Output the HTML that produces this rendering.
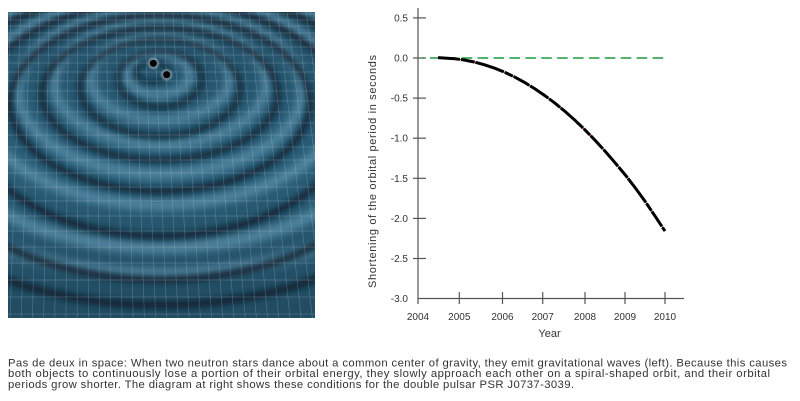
<!DOCTYPE html>
<html>
<head>
<meta charset="utf-8">
<style>
  html,body{margin:0;padding:0;background:#fff;}
  body{width:800px;height:401px;overflow:hidden;}
  svg{display:block;}
  text{font-family:"Liberation Sans",sans-serif;fill:#333;}
</style>
</head>
<body>
<svg width="800" height="401" viewBox="0 0 800 401" xmlns="http://www.w3.org/2000/svg">
  <defs>
    <clipPath id="imgclip"><rect x="8" y="12" width="307" height="306"/></clipPath>
    <linearGradient id="bg" x1="0" y1="0" x2="0" y2="1">
      <stop offset="0" stop-color="#235169"/>
      <stop offset="0.5" stop-color="#295d77"/>
      <stop offset="1" stop-color="#214b61"/>
    </linearGradient>
    <radialGradient id="glow" cx="0.5" cy="0.5" r="0.5">
      <stop offset="0" stop-color="#ffffff" stop-opacity="0.9"/>
      <stop offset="1" stop-color="#ffffff" stop-opacity="0"/>
    </radialGradient>
    <filter id="b4" x="-20%" y="-20%" width="140%" height="140%"><feGaussianBlur stdDeviation="4"/></filter>
    <filter id="b3" x="-20%" y="-20%" width="140%" height="140%"><feGaussianBlur stdDeviation="3"/></filter>
  </defs>

  <!-- Left picture: gravitational waves -->
  <g clip-path="url(#imgclip)">
    <rect x="8" y="12" width="307" height="306" fill="url(#bg)"/>
    <!-- light ridges -->
    <g fill="none" stroke="#6aa0ba" stroke-opacity="0.6" filter="url(#b4)">
      <ellipse cx="160" cy="122" rx="280" ry="152" stroke-width="12"/>
      <ellipse cx="160" cy="116" rx="232" ry="132" stroke-width="12"/>
      <ellipse cx="160" cy="100" rx="182" ry="105" stroke-width="11"/>
      <ellipse cx="160" cy="91" rx="142" ry="83" stroke-width="10"/>
      <ellipse cx="160" cy="83" rx="106" ry="62" stroke-width="9"/>
      <ellipse cx="160" cy="78" rx="70" ry="42" stroke-width="9"/>
      <ellipse cx="158" cy="74" rx="32" ry="21" stroke-width="9"/>
    </g>
    <!-- dark troughs -->
    <g fill="none" stroke="#0b2230" stroke-opacity="0.85" filter="url(#b3)">
      <ellipse cx="160" cy="140" rx="290" ry="165" stroke-width="8"/>
      <ellipse cx="160" cy="135" rx="240" ry="145" stroke-width="8"/>
      <ellipse cx="160" cy="119" rx="190" ry="117" stroke-width="7"/>
      <ellipse cx="160" cy="103" rx="150" ry="88" stroke-width="6.5"/>
      <ellipse cx="160" cy="94" rx="118" ry="66" stroke-width="6"/>
      <ellipse cx="160" cy="88" rx="80" ry="48" stroke-width="5.5"/>
      <ellipse cx="160" cy="79" rx="42" ry="28" stroke-width="5"/>
      <ellipse cx="152" cy="72" rx="16" ry="10" stroke-width="4"/>
    </g>
    <!-- grid -->
    <g stroke="#cfe0e8" stroke-opacity="0.25" stroke-width="0.7" fill="none">
      <line x1="8" y1="14" x2="315" y2="14"/><line x1="8" y1="20" x2="315" y2="20"/>
      <line x1="8" y1="26" x2="315" y2="26"/><line x1="8" y1="33" x2="315" y2="33"/>
      <line x1="8" y1="40" x2="315" y2="40"/><line x1="8" y1="47" x2="315" y2="47"/>
      <line x1="8" y1="55" x2="315" y2="55"/><line x1="8" y1="63" x2="315" y2="63"/>
      <line x1="8" y1="72" x2="315" y2="72"/><line x1="8" y1="81" x2="315" y2="81"/>
      <line x1="8" y1="91" x2="315" y2="91"/><line x1="8" y1="101" x2="315" y2="101"/>
      <line x1="8" y1="112" x2="315" y2="112"/><line x1="8" y1="123" x2="315" y2="123"/>
      <line x1="8" y1="135" x2="315" y2="135"/><line x1="8" y1="147" x2="315" y2="147"/>
      <line x1="8" y1="160" x2="315" y2="160"/><line x1="8" y1="173" x2="315" y2="173"/>
      <line x1="8" y1="187" x2="315" y2="187"/><line x1="8" y1="201" x2="315" y2="201"/>
      <line x1="8" y1="216" x2="315" y2="216"/><line x1="8" y1="231" x2="315" y2="231"/>
      <line x1="8" y1="247" x2="315" y2="247"/><line x1="8" y1="263" x2="315" y2="263"/>
      <line x1="8" y1="280" x2="315" y2="280"/><line x1="8" y1="297" x2="315" y2="297"/>
      <line x1="8" y1="314" x2="315" y2="314"/>
      <line x1="20.6" y1="12" x2="10" y2="318"/><line x1="30.1" y1="12" x2="21.2" y2="318"/>
      <line x1="39.6" y1="12" x2="32.4" y2="318"/><line x1="49.1" y1="12" x2="43.6" y2="318"/>
      <line x1="58.6" y1="12" x2="54.8" y2="318"/><line x1="68.2" y1="12" x2="66" y2="318"/>
      <line x1="77.7" y1="12" x2="77.2" y2="318"/><line x1="87.2" y1="12" x2="88.4" y2="318"/>
      <line x1="96.7" y1="12" x2="99.6" y2="318"/><line x1="106.2" y1="12" x2="110.8" y2="318"/>
      <line x1="115.8" y1="12" x2="122" y2="318"/><line x1="125.3" y1="12" x2="133.2" y2="318"/>
      <line x1="134.8" y1="12" x2="144.4" y2="318"/><line x1="144.3" y1="12" x2="155.6" y2="318"/>
      <line x1="153.8" y1="12" x2="166.8" y2="318"/><line x1="163.4" y1="12" x2="178" y2="318"/>
      <line x1="172.9" y1="12" x2="189.2" y2="318"/><line x1="182.4" y1="12" x2="200.4" y2="318"/>
      <line x1="191.9" y1="12" x2="211.6" y2="318"/><line x1="201.4" y1="12" x2="222.8" y2="318"/>
      <line x1="211" y1="12" x2="234" y2="318"/><line x1="220.5" y1="12" x2="245.2" y2="318"/>
      <line x1="230" y1="12" x2="256.4" y2="318"/><line x1="239.5" y1="12" x2="267.6" y2="318"/>
      <line x1="249" y1="12" x2="278.8" y2="318"/><line x1="258.6" y1="12" x2="290" y2="318"/>
      <line x1="268.1" y1="12" x2="301.2" y2="318"/><line x1="277.6" y1="12" x2="312.4" y2="318"/>
      <line x1="287.1" y1="12" x2="323.6" y2="318"/><line x1="296.6" y1="12" x2="334.8" y2="318"/>
      <line x1="306.2" y1="12" x2="346" y2="318"/><line x1="11" y1="12" x2="-1" y2="318"/>
    </g>
    <!-- stars -->
    <circle cx="153.3" cy="63.3" r="7" fill="url(#glow)"/>
    <circle cx="166.7" cy="74.7" r="7" fill="url(#glow)"/>
    <circle cx="153.3" cy="63.3" r="3.6" fill="#000"/>
    <circle cx="166.7" cy="74.7" r="3.6" fill="#000"/>
  </g>

  <!-- Chart -->
  <g stroke="#555" stroke-width="1.2" fill="none">
    <line x1="418" y1="8" x2="418" y2="304"/>
    <line x1="418" y1="298.5" x2="684" y2="298.5"/>
    <line x1="413" y1="17.9" x2="426" y2="17.9"/>
    <line x1="413" y1="58" x2="426" y2="58"/>
    <line x1="413" y1="98.1" x2="426" y2="98.1"/>
    <line x1="413" y1="138.2" x2="426" y2="138.2"/>
    <line x1="413" y1="178.3" x2="426" y2="178.3"/>
    <line x1="413" y1="218.4" x2="426" y2="218.4"/>
    <line x1="413" y1="258.5" x2="426" y2="258.5"/>
    <line x1="459.3" y1="292" x2="459.3" y2="304"/>
    <line x1="502.5" y1="292" x2="502.5" y2="304"/>
    <line x1="542.7" y1="292" x2="542.7" y2="304"/>
    <line x1="585" y1="292" x2="585" y2="304"/>
    <line x1="625" y1="292" x2="625" y2="304"/>
    <line x1="665" y1="292" x2="665" y2="304"/>
  </g>

  <g font-size="10" text-anchor="end">
    <text x="408" y="21.4">0.5</text>
    <text x="408" y="61.5">0.0</text>
    <text x="408" y="101.6">-0.5</text>
    <text x="408" y="141.7">-1.0</text>
    <text x="408" y="181.8">-1.5</text>
    <text x="408" y="221.9">-2.0</text>
    <text x="408" y="262">-2.5</text>
    <text x="408" y="302">-3.0</text>
  </g>
  <g font-size="10" text-anchor="middle">
    <text x="418" y="320">2004</text>
    <text x="459.3" y="320">2005</text>
    <text x="502.5" y="320">2006</text>
    <text x="542.7" y="320">2007</text>
    <text x="585" y="320">2008</text>
    <text x="625" y="320">2009</text>
    <text x="665" y="320">2010</text>
  </g>
  <text x="549.5" y="337" font-size="11" text-anchor="middle">Year</text>
  <text transform="translate(376,171.5) rotate(-90)" x="0" y="0" font-size="11" text-anchor="middle" textLength="233">Shortening of the orbital period in seconds</text>

  <!-- zero line -->
  <line x1="422" y1="58" x2="665" y2="58" stroke="#1e9a3c" stroke-width="1.5" stroke-dasharray="10.6 5.3" stroke-dashoffset="8"/>

  <!-- data -->
  <path d="M438,57.6 L445,58.1 L455,58.8 L465,60.1 L475,62.2 L485,64.9 L495,68.3 L505,72.4 L515,77.2 L525,82.7 L535,88.9 L545,95.7 L555,103.2 L565,111.4 L575,120.3 L585,129.9 L595,140.2 L605,151.1 L615,162.7 L625,174.6 L635,187.5 L645,201.2 L655,216.1 L665,231.1" fill="none" stroke="#e23a2a" stroke-width="1"/>
  <path d="M438,57.6 L445,58.1 L455,58.8 L465,60.1 L475,62.2 L485,64.9 L495,68.3 L505,72.4 L515,77.2 L525,82.7 L535,88.9 L545,95.7 L555,103.2 L565,111.4 L575,120.3 L585,129.9 L595,140.2 L605,151.1 L615,162.7 L625,174.6 L635,187.5 L645,201.2 L655,216.1 L665,231.1" fill="none" stroke="#000" stroke-width="3" stroke-dasharray="22 1 14 0.8 30 1 9 0.8 18 1" stroke-linecap="butt"/>

  <!-- caption -->
  <g font-size="11.3">
    <text x="8" y="366.5" textLength="779">Pas de deux in space: When two neutron stars dance about a common center of gravity, they emit gravitational waves (left). Because this causes</text>
    <text x="8" y="377.2" textLength="762">both objects to continuously lose a portion of their orbital energy, they slowly approach each other on a spiral-shaped orbit, and their orbital</text>
    <text x="8" y="387.8" textLength="566">periods grow shorter. The diagram at right shows these conditions for the double pulsar PSR J0737-3039.</text>
  </g>
</svg>
</body>
</html>
